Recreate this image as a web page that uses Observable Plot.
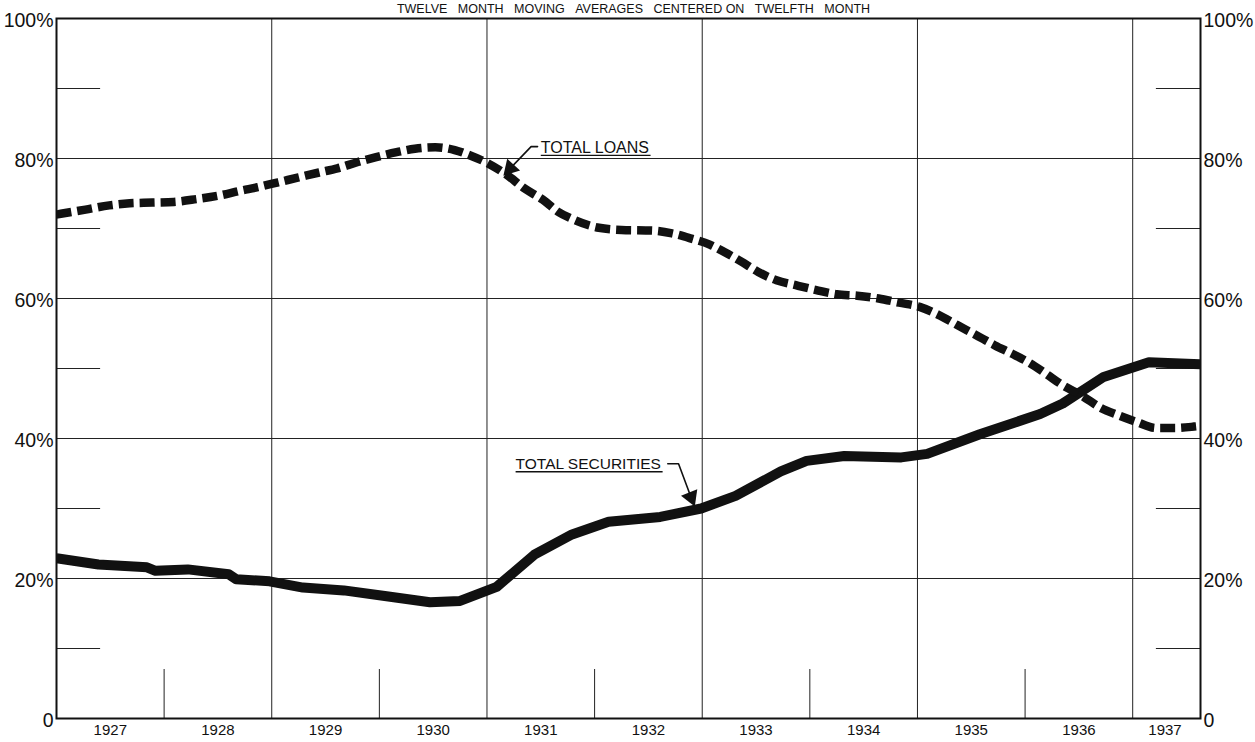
<!DOCTYPE html>
<html>
<head>
<meta charset="utf-8">
<script src="https://cdn.jsdelivr.net/npm/d3@7"></script>
<script src="https://cdn.jsdelivr.net/npm/@observablehq/plot@0.6"></script>
<style>
  body { margin: 0; background: #fff; }
  svg { display: block; }
</style>
</head>
<body>
<div id="chart"></div>
<script>
// ---- Data ----
const sp = "\u00a0\u00a0\u00a0";
const title = ["TWELVE", "MONTH", "MOVING", "AVERAGES", "CENTERED\u00a0ON", "TWELFTH", "MONTH"].join(sp);

const loansYears = [1927.00, 1927.04, 1927.27, 1927.49, 1927.68, 1927.89, 1928.09, 1928.30, 1928.51, 1928.71, 1928.87,
  1929.06, 1929.25, 1929.44, 1929.61, 1929.80, 1929.97, 1930.16, 1930.33, 1930.52, 1930.70, 1930.85,
  1931.01, 1931.18, 1931.35, 1931.52, 1931.66, 1931.80, 1932.04, 1932.25, 1932.54, 1932.72, 1932.89,
  1933.07, 1933.21, 1933.36, 1933.52, 1933.69, 1933.87, 1934.06, 1934.25, 1934.44, 1934.64, 1934.83,
  1935.02, 1935.19, 1935.37, 1935.53, 1935.72, 1935.88, 1936.03, 1936.19, 1936.33, 1936.54, 1936.70,
  1936.87, 1937.03, 1937.22, 1937.39, 1937.57, 1937.63];
const loansValues = [72.0, 72.1, 72.7, 73.3, 73.6, 73.7, 73.8, 74.2, 74.7, 75.4, 75.9,
  76.6, 77.3, 78.0, 78.6, 79.5, 80.2, 80.9, 81.4, 81.6, 81.2, 80.4,
  79.3, 77.7, 75.7, 74.1, 72.4, 71.3, 70.1, 69.8, 69.7, 69.3, 68.6,
  67.7, 66.6, 65.3, 63.8, 62.6, 61.9, 61.2, 60.6, 60.4, 60.0, 59.4,
  58.8, 57.7, 56.2, 54.9, 53.3, 52.1, 50.9, 49.3, 47.8, 46.0, 44.4,
  43.3, 42.4, 41.5, 41.5, 41.7, 41.8];

const securitiesYears = [1927.00, 1927.39, 1927.84, 1927.92, 1928.22, 1928.60, 1928.67, 1928.98, 1929.29, 1929.67,
  1930.05, 1930.47, 1930.75, 1931.09, 1931.44, 1931.79, 1932.13, 1932.61, 1932.99, 1933.31, 1933.73,
  1933.97, 1934.32, 1934.85, 1935.09, 1935.58, 1936.14, 1936.35, 1936.73, 1937.15, 1937.63];
const securitiesValues = [22.9, 22.0, 21.6, 21.1, 21.3, 20.6, 19.9, 19.6, 18.7, 18.3,
  17.5, 16.6, 16.8, 18.8, 23.4, 26.3, 28.1, 28.8, 30.0, 31.8, 35.3,
  36.8, 37.5, 37.3, 37.8, 40.6, 43.5, 45.0, 48.8, 50.9, 50.6];

const xDomain = [1927, 1937.63];
const majorYears = [1929, 1931, 1933, 1935, 1937];
const minorYears = [1928, 1930, 1932, 1934, 1936];
const yearLabels = [1927, 1928, 1929, 1930, 1931, 1932, 1933, 1934, 1935, 1936, 1937];
const yearLabelPos = [1927.5, 1928.5, 1929.5, 1930.5, 1931.5, 1932.5, 1933.5, 1934.5, 1935.5, 1936.5, 1937.3];
const pctGrid = [20, 40, 60, 80];
const pctMinor = [10, 30, 50, 70, 90];
const pctTicks = [0, 20, 40, 60, 80, 100];

// annotations: label, text anchor (year, pct), underline end year, leader path, arrow head
const annotLabels = ["TOTAL LOANS", "TOTAL SECURITIES"];
const annotTextYear = [1931.50, 1931.266];
const annotTextPct = [80.85, 35.68];
const annotUnderlineEnd = [1932.52, 1932.632];
const annotUnderlinePct = [80.45, 35.25];
const annotFontSize = [16, 15.5];
const leaderLoans = [[1931.47, 81.7], [1931.41, 81.7], [1931.216, 78.59]];
const leaderSecurities = [[1932.68, 36.4], [1932.78, 36.4], [1932.896, 31.61]];
const arrowHeads = [[1931.216, 78.59, 222.6], [1932.896, 31.61, 158.2]];

// ---- Build tables ----
const loans = loansYears.map((t, i) => ({t, v: loansValues[i]}));
const securities = securitiesYears.map((t, i) => ({t, v: securitiesValues[i]}));
const annots = annotLabels.map((label, i) => ({
  label, t: annotTextYear[i], v: annotTextPct[i], t2: annotUnderlineEnd[i], vu: annotUnderlinePct[i], fs: annotFontSize[i]
}));
const pctFmt = d => d === 0 ? "0" : d + "%";
const ink = "#111";

const plot = Plot.plot({
  width: 1255,
  height: 742,
  marginLeft: 56,
  marginRight: 55,
  marginTop: 18,
  marginBottom: 24,
  x: {domain: xDomain, axis: null},
  y: {domain: [0, 100], axis: null},
  style: {fontFamily: "'Liberation Sans', Arial, sans-serif", background: "#fff", color: ink},
  marks: [
    Plot.ruleY(pctGrid, {y: d => d, stroke: "#222", strokeWidth: 1}),
    Plot.ruleX(majorYears, {x: d => d, stroke: "#222", strokeWidth: 1}),
    Plot.ruleX(minorYears, {x: d => d, y1: () => 0, y2: () => 7, stroke: "#222", strokeWidth: 1}),
    Plot.ruleY(pctMinor, {y: d => d, x1: () => xDomain[0], x2: () => xDomain[0] + 0.41, stroke: "#222", strokeWidth: 1}),
    Plot.ruleY(pctMinor, {y: d => d, x1: () => xDomain[1] - 0.41, x2: () => xDomain[1], stroke: "#222", strokeWidth: 1}),
    Plot.frame({stroke: ink, strokeWidth: 2}),
    // series
    Plot.line(securities, {x: "t", y: "v", stroke: ink, strokeWidth: 10, curve: "linear", strokeLinejoin: "round", strokeLinecap: "butt", clip: true}),
    Plot.line(loans, {x: "t", y: "v", stroke: ink, strokeWidth: 8.5, curve: "monotone-x", strokeDasharray: "15,6", strokeLinecap: "butt", clip: true}),
    // annotations
    Plot.text(annots, {x: "t", y: "v", text: "label", textAnchor: "start", lineAnchor: "bottom", fontSize: d => d.fs, fill: ink}),
    Plot.link(annots, {x1: "t", x2: "t2", y1: "vu", y2: "vu", stroke: ink, strokeWidth: 1.3}),
    Plot.line(leaderLoans, {x: d => d[0], y: d => d[1], stroke: ink, strokeWidth: 1.6}),
    Plot.line(leaderSecurities, {x: d => d[0], y: d => d[1], stroke: ink, strokeWidth: 1.6}),
    Plot.dot(arrowHeads, {x: d => d[0], y: d => d[1], rotate: d => d[2], symbol: "triangle", r: 6.5, fill: ink, stroke: "none"}),
    // title
    Plot.text([title], {frameAnchor: "top", dy: -6, dx: 5, text: d => d, fontSize: 12.5, lineAnchor: "bottom", fill: ink}),
    // y labels left and right
    Plot.text(pctTicks, {y: d => d, text: pctFmt, frameAnchor: "left", textAnchor: "end", dx: -3, dy: 2, fontSize: 19.5, fill: ink}),
    Plot.text(pctTicks, {y: d => d, text: pctFmt, frameAnchor: "right", textAnchor: "start", dx: 3, dy: 2, fontSize: 19.5, fill: ink}),
    // year labels
    Plot.text(yearLabels, {x: (d, i) => yearLabelPos[i], text: d => String(d), frameAnchor: "bottom", dy: 16, fontSize: 15, fill: ink})
  ]
});
document.getElementById("chart").appendChild(plot);
</script>
</body>
</html>
